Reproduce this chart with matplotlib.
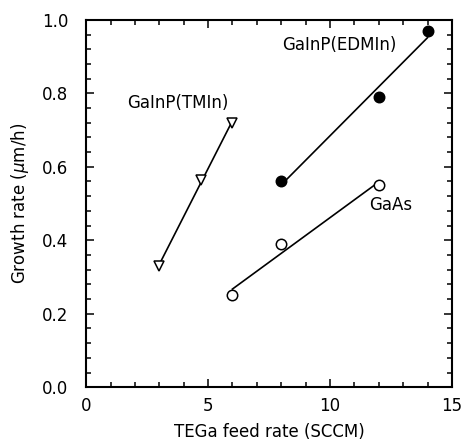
import numpy as np
import matplotlib
matplotlib.use('Agg')
import matplotlib.pyplot as plt
from matplotlib.ticker import MultipleLocator, FormatStrFormatter

# TEGa feed rate (SCCM) vs growth rate (um/h)
tmin_x = [3.0, 4.7, 6.0]
tmin_y = [0.33, 0.565, 0.72]

edmin_x = [8.0, 12.0, 14.0]
edmin_y = [0.56, 0.79, 0.97]

gaas_x = [6.0, 8.0, 12.0]
gaas_y = [0.25, 0.39, 0.55]

plt.rcParams['font.family'] = 'DejaVu Sans'

fig = plt.figure(figsize=(4.63, 4.41), dpi=100)
ax = fig.add_axes([0.186, 0.122, 0.79, 0.833])

def fit_line(x, y):
    # least squares line, drawn from first to last point
    k, b = np.polyfit(x, y, 1)
    xs = np.array([x[0], x[-1]])
    return xs, k * xs + b

for xs, ys, mk, fc in [(tmin_x, tmin_y, 'v', 'white'),
                       (edmin_x, edmin_y, 'o', 'black'),
                       (gaas_x, gaas_y, 'o', 'white')]:
    lx, ly = fit_line(xs, ys)
    ax.plot(lx, ly, color='black', lw=1.2, zorder=2)
    ax.plot(xs, ys, mk, ms=7.5, mfc=fc, mec='black', mew=1.1, ls='none', zorder=3)

ax.text(8.05, 0.918, 'GaInP(EDMIn)', fontsize=12)
ax.text(1.7, 0.76, 'GaInP(TMIn)', fontsize=12)
ax.text(11.6, 0.482, 'GaAs', fontsize=12)

ax.set_xlim(0, 15)
ax.set_ylim(0, 1.0)
ax.xaxis.set_major_locator(MultipleLocator(5))
ax.xaxis.set_minor_locator(MultipleLocator(1))
ax.yaxis.set_major_locator(MultipleLocator(0.2))
ax.yaxis.set_minor_locator(MultipleLocator(0.04))
ax.yaxis.set_major_formatter(FormatStrFormatter('%.1f'))

ax.tick_params(which='both', direction='in', top=True, right=True, labelsize=12, width=1.1)
ax.tick_params(which='major', length=6)
ax.tick_params(which='minor', length=3.5)
ax.tick_params(axis='x', which='major', pad=7)
ax.tick_params(axis='y', which='major', pad=13)
for s in ax.spines.values():
    s.set_linewidth(1.5)

ax.set_xlabel('TEGa feed rate (SCCM)', fontsize=12, labelpad=6)
ax.set_ylabel('Growth rate ($\\mu$m/h)', fontsize=12, labelpad=8)

fig.savefig('out.png', dpi=100)
